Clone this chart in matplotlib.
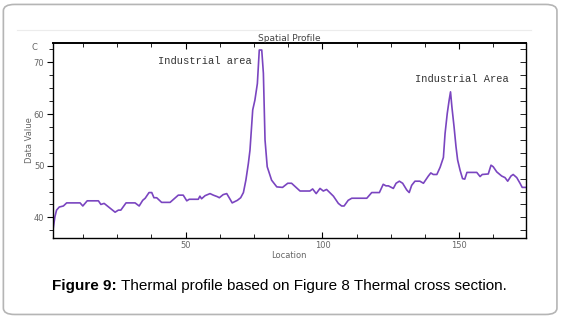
import matplotlib.pyplot as plt
from matplotlib.patches import FancyBboxPatch
from matplotlib.ticker import MultipleLocator, FixedLocator
from matplotlib.lines import Line2D

# Profile vertices (location, temperature)
location = [1.4, 2.2, 2.8, 3.8, 5.3, 6.5, 11.4, 12.4, 14.0, 18.1, 19.0, 20.2, 24.2, 25.4, 26.3,
            28.2, 31.5, 33.0, 34.3, 35.2, 36.6, 37.6, 38.4, 39.4, 41.2, 44.3, 47.3, 49.1, 50.4,
            51.3, 54.6, 55.2, 55.8, 57.1, 58.9, 60.1, 61.6, 62.3, 63.7, 65.0, 65.9, 67.0, 68.9,
            70.1, 71.1, 72.0, 72.9, 73.5, 74.5, 75.3, 76.2, 76.9, 77.8, 78.4, 79.0, 79.8, 81.4,
            83.3, 85.4, 87.3, 88.7, 91.8, 95.4, 96.4, 97.7, 99.1, 100.3, 101.5, 104.0, 105.8,
            107.0, 107.9, 109.4, 110.7, 116.2, 118.0, 120.8, 122.2, 123.2, 124.1, 125.9, 126.9,
            128.1, 129.3, 130.8, 131.7, 132.6, 133.8, 135.6, 136.9, 138.7, 139.6, 140.5, 141.8,
            143.0, 144.2, 144.8, 145.6, 146.3, 146.8, 147.3, 148.1, 148.8, 149.4, 150.3, 151.2,
            152.0, 152.8, 156.4, 157.6, 158.4, 160.6, 161.6, 162.4, 163.7, 165.5, 166.7, 167.7,
            168.9, 169.7, 171.0, 172.2, 173.0, 174.4]
temperature = [37.2, 40.1, 41.4, 42.0, 42.2, 42.8, 42.8, 42.2, 43.2, 43.2, 42.5, 42.7, 41.0, 41.4, 41.4,
               42.8, 42.8, 42.2, 43.3, 43.7, 44.8, 44.8, 43.8, 43.8, 42.9, 42.9, 44.3, 44.3, 43.2,
               43.5, 43.5, 44.1, 43.6, 44.2, 44.6, 44.3, 44.0, 43.8, 44.4, 44.6, 43.8, 42.8, 43.3,
               43.8, 44.8, 47.2, 50.4, 53.0, 60.8, 62.7, 65.9, 72.4, 72.4, 67.9, 55.0, 49.8, 47.2,
               45.9, 45.8, 46.6, 46.6, 45.1, 45.1, 45.5, 44.6, 45.6, 45.1, 45.4, 44.1, 42.7,
               42.2, 42.2, 43.3, 43.7, 43.7, 44.8, 44.8, 46.4, 46.1, 46.1, 45.6, 46.6,
               47.0, 46.6, 45.3, 44.8, 46.2, 47.0, 47.0, 46.6, 48.0, 48.6, 48.3, 48.3,
               49.7, 51.6, 56.2, 60.1, 62.7, 64.3, 61.4, 57.5, 53.7, 51.1, 49.1, 47.5,
               47.4, 48.7, 48.7, 47.9, 48.3, 48.4, 50.1, 49.8, 48.8, 48.0, 47.7, 47.0,
               48.0, 48.3, 47.7, 46.6, 45.8, 45.8]

x_major = [50, 100, 150]
y_major = [40, 50, 60, 70]

fig = plt.figure(figsize=(5.62, 3.17), dpi=100)

# page frame
fig.patches.append(FancyBboxPatch((0.006, 0.008), 0.985, 0.978, boxstyle='round,pad=0,rounding_size=0.02',
                                  transform=fig.transFigure, facecolor='none', edgecolor='#b5b5b5',
                                  linewidth=1.2, zorder=5))
fig.lines.append(Line2D([0.03, 0.945], [0.905, 0.905], transform=fig.transFigure, color='#ececec', lw=0.8))

ax = fig.add_axes([0.0938, 0.25, 0.8422, 0.6134])
ax.plot(location, temperature, color='#7a45c0', lw=1.2)

ax.set_xlim(1.4, 174.4)
ax.set_ylim(36.05, 73.7)

ax.xaxis.set_major_locator(FixedLocator(x_major))
ax.xaxis.set_minor_locator(MultipleLocator(12.5))
ax.yaxis.set_major_locator(FixedLocator(y_major))
ax.yaxis.set_minor_locator(MultipleLocator(2.5))

ax.tick_params(axis='x', which='both', direction='in', top=True, bottom=True,
               labelsize=6, labelcolor='#666666', pad=2)
ax.tick_params(axis='y', which='both', direction='out', left=True, right=False,
               labelsize=6, labelcolor='#666666', pad=2)
ax.tick_params(which='major', length=4, width=0.8)
ax.tick_params(which='minor', length=3, width=0.6)
# right side ticks point inward
ax2 = ax.secondary_yaxis('right')
ax2.yaxis.set_major_locator(MultipleLocator(2.5))
ax2.tick_params(direction='in', length=4, width=0.6, labelright=False)

for s in ax.spines.values():
    s.set_linewidth(1.0)
ax.spines['top'].set_linewidth(1.4)
ax2.spines['right'].set_linewidth(0.6)

ax.set_title('Spatial Profile', fontsize=6.5, color='#444444', pad=1.5)
ax.set_xlabel('Location', fontsize=6, color='#666666', labelpad=1)
ax.set_ylabel('Data Value', fontsize=6, color='#666666', labelpad=0)
ax.text(-0.044, 0.98, 'C', transform=ax.transAxes, fontsize=6, color='#666666', va='center')

ax.text(40, 70.2, 'Industrial area', family='Liberation Mono', fontsize=7.5, color='#333333', va='center')
ax.text(151, 66.8, 'Industrial Area', family='Liberation Mono', fontsize=7.5, color='#333333',
        va='center', ha='center')

t1 = fig.text(0.0925, 0.098, 'Figure 9:', fontsize=11, fontweight='bold', family='Liberation Sans',
              ha='left', va='center', color='black')
ax.annotate(' Thermal profile based on Figure 8 Thermal cross section.', xy=(1, 0.5), xycoords=t1,
            fontsize=11, family='Liberation Sans', ha='left', va='center', color='black',
            annotation_clip=False)

plt.savefig('out.png', dpi=100)
